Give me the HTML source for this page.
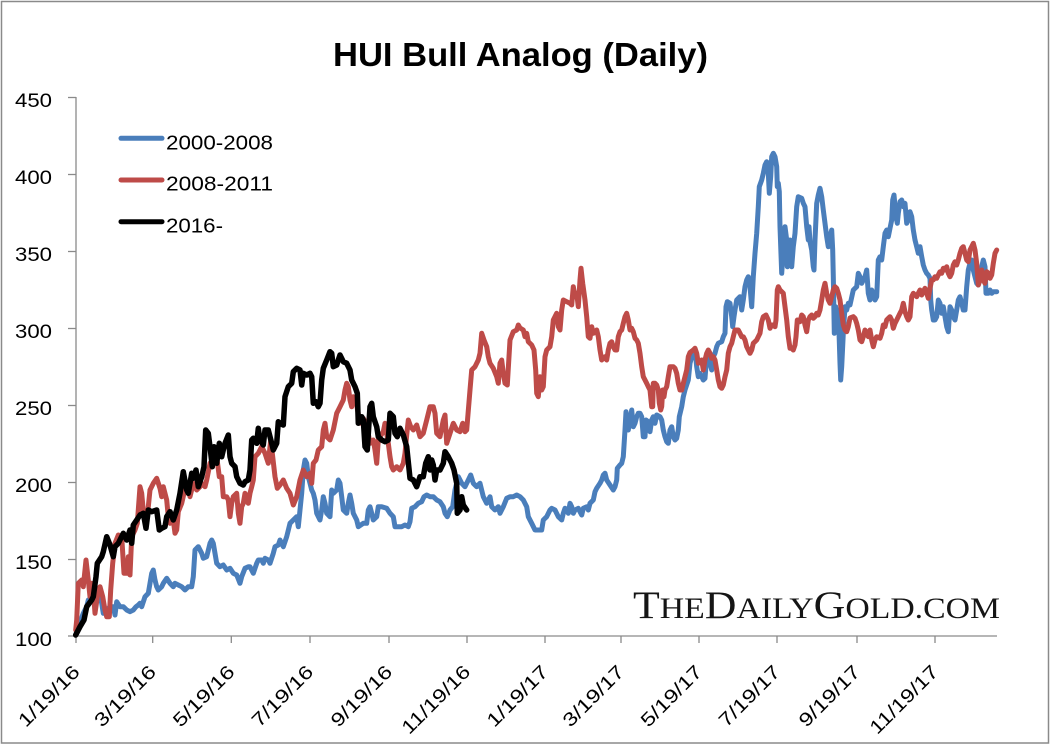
<!DOCTYPE html>
<html><head><meta charset="utf-8"><style>
html,body{margin:0;padding:0;background:#fff;}
svg{display:block;}
</style></head><body>
<svg width="1051" height="746" viewBox="0 0 1051 746" xmlns="http://www.w3.org/2000/svg">
<rect x="0" y="0" width="1051" height="746" fill="#fff"/>
<rect x="1.5" y="1.5" width="1047" height="741.5" fill="none" stroke="#8a8a8a" stroke-width="1.5"/>
<text x="520.5" y="66" font-family="Liberation Sans, sans-serif" font-weight="bold" font-size="33" text-anchor="middle" textLength="375" lengthAdjust="spacingAndGlyphs" fill="#000">HUI Bull Analog (Daily)</text>

<g stroke="#8a8a8a" stroke-width="1.3" fill="none">
<line x1="76" y1="97" x2="76" y2="636.5"/>
<line x1="76" y1="636" x2="997" y2="636"/>
<line x1="68" y1="97.5" x2="76" y2="97.5"/>
<line x1="68" y1="174.5" x2="76" y2="174.5"/>
<line x1="68" y1="251.5" x2="76" y2="251.5"/>
<line x1="68" y1="328.5" x2="76" y2="328.5"/>
<line x1="68" y1="405.5" x2="76" y2="405.5"/>
<line x1="68" y1="482.5" x2="76" y2="482.5"/>
<line x1="68" y1="559.5" x2="76" y2="559.5"/>
<line x1="68" y1="636" x2="76" y2="636"/>
<line x1="76" y1="636" x2="76" y2="643"/>
<line x1="152.7" y1="636" x2="152.7" y2="643"/>
<line x1="231.3" y1="636" x2="231.3" y2="643"/>
<line x1="310" y1="636" x2="310" y2="643"/>
<line x1="389" y1="636" x2="389" y2="643"/>
<line x1="467" y1="636" x2="467" y2="643"/>
<line x1="545" y1="636" x2="545" y2="643"/>
<line x1="621" y1="636" x2="621" y2="643"/>
<line x1="699" y1="636" x2="699" y2="643"/>
<line x1="777" y1="636" x2="777" y2="643"/>
<line x1="857" y1="636" x2="857" y2="643"/>
<line x1="935" y1="636" x2="935" y2="643"/>
</g>

<g font-family="Liberation Sans, sans-serif" font-size="19" fill="#000" text-anchor="end">
<text x="52" y="107" textLength="37" lengthAdjust="spacingAndGlyphs">450</text>
<text x="52" y="184" textLength="37" lengthAdjust="spacingAndGlyphs">400</text>
<text x="52" y="261" textLength="37" lengthAdjust="spacingAndGlyphs">350</text>
<text x="52" y="338" textLength="37" lengthAdjust="spacingAndGlyphs">300</text>
<text x="52" y="415" textLength="37" lengthAdjust="spacingAndGlyphs">250</text>
<text x="52" y="492" textLength="37" lengthAdjust="spacingAndGlyphs">200</text>
<text x="52" y="569" textLength="37" lengthAdjust="spacingAndGlyphs">150</text>
<text x="52" y="646" textLength="37" lengthAdjust="spacingAndGlyphs">100</text>
</g>

<g font-family="Liberation Sans, sans-serif" font-size="19" fill="#000" text-anchor="end">
<text transform="translate(81,673) rotate(-45)" textLength="78" lengthAdjust="spacingAndGlyphs">1/19/16</text>
<text transform="translate(157.2,673) rotate(-45)" textLength="78" lengthAdjust="spacingAndGlyphs">3/19/16</text>
<text transform="translate(235.8,673) rotate(-45)" textLength="78" lengthAdjust="spacingAndGlyphs">5/19/16</text>
<text transform="translate(314.5,673) rotate(-45)" textLength="78" lengthAdjust="spacingAndGlyphs">7/19/16</text>
<text transform="translate(393.5,673) rotate(-45)" textLength="78" lengthAdjust="spacingAndGlyphs">9/19/16</text>
<text transform="translate(471.5,673) rotate(-45)" textLength="88" lengthAdjust="spacingAndGlyphs">11/19/16</text>
<text transform="translate(549.5,673) rotate(-45)" textLength="78" lengthAdjust="spacingAndGlyphs">1/19/17</text>
<text transform="translate(625.5,673) rotate(-45)" textLength="78" lengthAdjust="spacingAndGlyphs">3/19/17</text>
<text transform="translate(703.5,673) rotate(-45)" textLength="78" lengthAdjust="spacingAndGlyphs">5/19/17</text>
<text transform="translate(781.5,673) rotate(-45)" textLength="78" lengthAdjust="spacingAndGlyphs">7/19/17</text>
<text transform="translate(861.5,673) rotate(-45)" textLength="78" lengthAdjust="spacingAndGlyphs">9/19/17</text>
<text transform="translate(939.5,673) rotate(-45)" textLength="88" lengthAdjust="spacingAndGlyphs">11/19/17</text>
</g>

<text x="633" y="618" font-family="Liberation Serif, serif" fill="#151515" textLength="367" lengthAdjust="spacingAndGlyphs"><tspan font-size="39">T</tspan><tspan font-size="30">HE</tspan><tspan font-size="39">D</tspan><tspan font-size="30">AILY</tspan><tspan font-size="39">G</tspan><tspan font-size="30">OLD.COM</tspan></text>

<g fill="none" stroke-width="5" stroke-linejoin="round" stroke-linecap="round">
<polyline stroke="#4a7ebb" points="75.7,635 78.3,626.7 83.3,613.3 86.7,606.7 88.3,600 91.7,598.3 95,600 98.3,596.7 100,596.7 101.7,603.3 103.3,613.3 106.7,610 110,606.7 113.3,606.7 115,615 116.7,601.7 120,606.7 123.3,606.7 126.7,610 130,611.7 133.3,610 136,606.7 138.3,605 140,603.3 141.7,606.7 145,596.7 148.3,593.3 150,583.3 151.7,573.3 153.3,570 155,580 156.7,586.7 158.3,590 161.7,586.7 163.3,583.3 166.7,578.3 170,583.3 173.3,586.7 175,583.3 178.3,585 181.7,586.7 185,590 188.3,586.7 191.7,586.7 193.3,576.7 195,550 198.3,546.7 201.7,553.3 203.3,558.3 206.7,556.7 210,543.3 211.7,540 213.3,543.3 215,553.3 216.7,563.3 220,566.7 223.3,565 226.7,570 230,568.3 233.3,573.3 236.7,575 240,583.3 241.7,576.7 245,568.3 248.3,566.7 250,566.7 253.3,573.3 255,568.3 256.7,563.3 258.3,560 261.7,560 263.3,563.3 265,558.3 268.3,560 270,563.3 273.3,553.3 275,546.7 278.3,545 280,540 283.3,546.7 286.7,536.7 290,523.3 293.3,520 296.7,516.7 298.3,526.7 300,510 301.7,493.3 303.3,470 305,460 306.7,463.3 308.3,476.7 310,483.3 311.7,490 313.3,493.3 315,500 316.7,513.3 320,520 321.7,510 323.3,496.7 325,503.3 326.7,513.3 330,516.7 331.7,490 333.3,493.3 336.7,490 338.3,480 340,483.3 341.7,496.7 343.3,510 346.7,513.3 348.3,503.3 350,495 351.7,503.3 353.3,513.3 356.7,520 358.3,526.7 363.3,523.3 366.7,523.3 368.3,510 370,506.7 371.7,513.3 373.3,520 376.7,516.7 378.3,506.7 381.7,506.7 386.7,508.3 390,513.3 393.3,516.7 395,526.7 398.3,526.7 401.7,526.7 405,525 408.3,526.7 410,521.7 411.7,508.3 415,506.7 418.3,503.3 421.7,501.7 424,496.7 426.7,495 430,496.7 433.3,496.7 436.7,500 440,501.7 443.3,506.7 445,513.3 447.3,516.7 450,510 452.7,506.7 455,490 458.3,476.7 461.7,483.3 465,486.7 468.3,480 470.7,475 473.3,483.3 476.7,486.7 480,483.3 483.3,496.7 486.7,503.3 490,496.7 491.7,506.7 495,510 498.3,506.7 500,513.3 503.3,506.7 506.7,498.3 510,496.7 513.3,496.7 516.7,495 520,496.7 523.3,500 526.7,506.7 528.3,516.7 531.7,523.3 535,530 538.3,530 541.7,530 543.3,520 546.7,516.7 550,510 551.7,508.3 555,510 558.3,516.7 561.7,520 563.3,513.3 565,508.3 566.7,510 568.3,513.3 570,503.3 571.7,506.7 573.3,513.3 575,510 578.3,508.3 580,511.7 581.7,515 583.3,508.3 586.7,506.7 588.3,510 590,503.3 593.3,500 595,491.7 596.7,488.3 600,483.3 601.7,480 603.3,475 605,473.3 606.7,480 610,485 613.3,490 615,486.7 616.7,480 617.3,468.3 620,465 621.7,463.3 623.3,456.7 625,430 626,411.7 628.3,430 630,420 631.7,410 633.3,426.7 635,423.3 636.7,416.7 638.3,413.3 640,413.3 641.7,416.7 643.3,436.7 645,436.7 646,420 648.3,421.7 650,431.7 651.7,420 653.3,416.7 655,423.3 656.7,415 660,416.7 661.7,420 663.3,430 665,436.7 666.7,441.7 668.3,443.3 670,430 671.7,426.7 673.3,436.7 675,440 676.7,438.3 678.3,430 679.3,416.7 681.7,406.7 683.3,396.7 685,390 688.3,380 690,363.3 691.7,356.7 693.3,353.3 695,350 696.7,366.7 698.3,376.7 700,373.3 703.3,380 705,378.3 706.7,356.7 708.3,360 710,363.3 711.7,370 713.3,356.7 715,353.3 716.7,346.7 718.3,343.3 721.7,341.7 723.3,336.7 725,333.3 726,306.7 727.3,301.7 730,303.3 731.7,316.7 732.7,326.7 734,316.7 735,310 736.7,300 740,296.7 741.7,310 743.3,300 745,286.7 746.7,280 748.3,276.7 750,286.7 751.7,306.7 753.3,276.7 755,253.3 756.7,233.3 758.3,206.7 759.3,186.7 761.7,180 763.3,173.3 765,165 766.7,161.7 768.3,173.3 769.3,193.3 770.7,176.7 771.7,156.7 773.3,153.3 775,156.7 776.7,166.7 777.3,186.7 778.3,183.3 779.3,191.7 780,226.7 781.7,273.3 783.3,250 785,226.7 786.7,240 787.3,266.7 788.3,246.7 790,240 791.7,266.7 793.3,246.7 795,233.3 796.7,206.7 798.3,196.7 801.7,198.3 803.3,203.3 805,206.7 806.7,226.7 808.3,240 809,226.7 810,241.7 811.7,250 813.3,266.7 814,270 815,240 816.7,203.3 818.3,195 820,188.3 821.7,196.7 823.3,210 825,223.3 826.7,236.7 828.3,246.7 830,236.7 831.7,230 832.7,250 833.3,276.7 834.3,333.3 835.7,306.7 836.7,320 838.3,310 840,363.3 840.7,380 841.7,366.7 843.3,333.3 845,306.7 846.7,310 848.3,303.3 850,305 853.3,290 856.7,286.7 858.3,273.3 860,276.7 861.7,283.3 863.3,280 865,276.7 866.7,270 868.3,293.3 870,300 871.7,290 873.3,293.3 875,300 876.7,296.7 878.3,260 880,256.7 881.7,260 883.3,246.7 885,233.3 886.7,230 888.3,236.7 890,228.3 891.7,220 892.7,200 894,195 896,216.7 897.3,223.3 898.3,213.3 900,201.7 901.7,200 903.3,206.7 905,203.3 906.7,223.3 908.3,220 910,211.7 911.7,216.7 913.3,230 915,240 916.7,246.7 918.3,253.3 920,246.7 921.7,256.7 923.3,265 925,270 926.7,273.3 928.3,275 930,278.3 930.7,300 931.7,310 933.3,320 935,320 936.7,316.7 938.3,300 940,303.3 941.7,313.3 943.3,306.7 945,316.7 946.7,326.7 948.3,331.7 950,306.7 951.7,310 953.3,316.7 955,320 956.7,310 958.3,300 960,296.7 961.7,303.3 963.3,310 965,310 966.7,286.7 968.3,270 970,263.3 971.7,260 973.3,270 975,276.7 976.7,283.3 978.3,285 980,280 981.7,266.7 983.3,260 985,266.7 986,293.3 988.3,293.3 990,290 991.7,293.3 993.3,291.7 996.7,291.7"/>
<polyline stroke="#be4b48" points="75.7,630 76.7,620 78.3,583.3 81.7,580 83.3,586.7 86,560 88.3,580 90,596.7 91.7,583.3 93.3,590 95,613.3 98.3,590 100,586.7 102.7,596.7 105,610 106.7,616.7 109.3,616.7 110.7,590 112.7,563.3 115,543.3 118.3,535 121.7,536.7 124,573.3 126.7,573.3 128.3,556.7 130,575 131.7,536.7 135,530 137.3,523.3 140,486.7 141.7,493.3 144,518.3 147.3,516.7 150,490 153.3,483.3 156.7,478.3 160,488.3 161.7,496.7 163.3,486.7 166.7,500 168.3,516.7 170,523.3 173.3,520 175,533.3 176.7,530 178.3,511.7 181.7,503.3 184,493.3 186.7,483.3 190,496.7 193.3,483.3 196.7,490 200,486.7 201.7,483.3 205,486.7 206.7,480 210,463.3 213.3,463.3 216.7,456.7 219.3,476.7 221.7,476.7 223.3,496.7 226.7,496.7 228.3,500 230,516.7 231.7,503.3 233.3,496.7 236.7,493.3 238.3,513.3 240,523.3 241.7,506.7 243.3,503.3 245,493.3 248.3,503.3 250,493.3 251.7,486.7 253.3,480 255,456.7 258.3,453.3 261.7,446.7 265,453.3 268.3,463.3 270.7,440 272.7,456.7 275,476.7 277.3,488.3 280,485 283.3,480 286.7,488.3 290,493.3 293.3,505 296.7,496.7 300,480 303.3,470 306.7,476.7 310,473.3 311.7,483.3 313.3,463.3 316,460 318.3,450 321.7,446.7 323.3,430 325,423.3 326.7,436.7 330,440 333.3,430 336.7,413.3 340,406.7 343.3,400 345,390 346.7,383.3 348.3,386.7 350,400 351.7,406.7 353.3,396.7 356.7,405 360,423.3 363.3,418.3 366.7,425 370,443.3 373.3,440 375,450 376.7,463.3 378.3,440 380,436.7 383.3,431.7 385,423.3 388.3,443.3 390,456.7 391.7,466.7 393.3,470 396.7,466.7 400,470 403.3,463.3 405,453.3 406.7,435 408.3,420 410.7,426.7 413.3,430 416.7,425 420,436.7 423.3,433.3 426.7,420 430,406.7 433.3,406.7 435,413.3 436.7,433.3 440,436.7 443.3,420 445,415 446.7,443.3 450,433.3 453.3,423.3 456.7,430 460,431.7 462.7,423.3 465,431.7 466.7,430 470,390 471.7,370 475,366.7 478.3,360 480,353.3 481.7,333.3 484,340 486.7,346.7 488.3,356.7 490,363.3 493.3,368.3 496.7,376.7 498.3,383.3 500,363.3 501.7,360 503.3,373.3 505,383.3 507.3,385 510,340 513.3,331.7 516.7,330 518.3,325 520,328 523.3,330 525,336.7 526.7,333.3 528.3,341.7 531.7,345 534,350 535.7,370 536.7,393.3 538.3,396.7 540,376.7 541.7,390 543.3,386.7 545,356.7 546.7,350 550,346.7 551.7,336.7 553.3,320 555,316.7 556.7,313.3 558.3,326.7 560,330 561.7,310 563.3,300 566.7,301.7 570,303.3 571.7,305 573.3,286.7 575,296.7 576.7,293.3 578.3,306.7 580,280 581,268.3 582.7,283.3 585,300 586.7,316.7 588.3,336.7 590,338.3 591.7,326.7 593.3,333.3 595,331.7 596.7,330 598.3,336.7 600,350 601.7,360 605,356.7 606.7,360 608.3,350 610,343.3 611.7,341.7 613.3,346.7 615,350 616.7,350 618.3,336.7 620,331.7 621.7,330 623.3,323.3 625,316.7 626.7,313.3 628.3,320 630,330 631.7,328.3 633.3,331.7 635,338.3 636.7,340 638.3,343.3 640,353.3 641.7,366.7 643.3,376.7 646.7,383.3 648.3,386.7 650,390 651.7,406.7 652.7,406.7 653.3,383.3 655,383.3 656.7,385 658.3,390 659.3,403.3 660.7,410 661.7,406.7 662.7,390 664,396.7 665,390 666.7,386.7 668.3,376.7 670,366.7 673.3,366.7 675,368.3 676.7,373.3 678.3,383.3 680,390 681.7,390 683.3,383.3 686.7,370 688.3,356.7 690,352.5 693.3,350 695,348.3 696.7,353.3 698.3,363.3 700,361.7 701.7,360 703.3,370 705,360 706.7,353.3 708.3,350 710,353.3 711.7,358.3 713.3,356.7 715,360 716.7,370 718.3,380 720,386.7 721.7,388.3 723.3,385 725,376.7 726.7,370 728.3,353.3 730,346.7 731.7,343.3 733.3,336.7 735,330 738.3,330 740,333.3 741.7,336.7 743.3,336.7 745,340 746.7,346.7 748.3,350 750,353.3 751.7,350 753.3,343.3 756.7,340 758.3,336.7 760,333.3 761.7,321.7 763.3,316.7 766,315 768.3,320 770,328.3 771.7,325 773.3,325 775,326.7 776,320 777.3,290 778.3,286.7 780,290 781.7,291.7 783.3,293.3 785,306.7 786.7,320 788.3,336.7 790,348.3 791.7,348.3 793.3,350 795,345 796,336.7 797.3,320 800,321.7 801.7,315 803.3,316.7 805,325 806.7,331.7 808.3,320 810,316.7 811.7,315 813.3,318.3 815,316.7 816.7,313.3 818.3,315 820,310 821.7,300 823.3,290 825,283.3 826.7,293.3 828.3,300 830,303.3 831.7,296.7 833.3,290 835,286.7 836.7,288.3 838.3,293.3 840,300 841.7,313.3 843.3,325 845,330 846.7,331.7 848.3,326.7 850,318 853.3,316.7 855,318.3 856.7,323.3 858.3,330 860,340 861.7,341.7 863.3,336.7 865,330 866.7,333.3 868.3,336.7 870,330 871.7,340 873.3,346.7 875,340 876.7,336.7 880,338.3 881.7,333.3 883.3,325 885,326.7 886.7,320 888.3,318.3 890,316.7 891.7,320 893.3,328.3 895,323.3 896.7,320 898.3,316.7 900,313.3 901.7,310 903.3,303.3 905,311.7 906.7,316.7 908.3,320 910,316.7 911.7,296.7 913.3,293.3 915,295 916.7,296.7 918.3,293.3 920,290 921.7,295 923.3,291.7 925,288.3 926.7,293.3 928.3,298.3 930,288.3 931.7,280 933.3,280 935,276.7 936.7,278.3 938.3,275 940,271.7 941.7,273.3 943.3,268.3 945,270 946.7,266.7 948.3,273.3 950,276.7 951.7,273.3 953.3,265 955,261.7 956.7,265 958.3,260 960,253.3 961.7,248.3 963.3,246.7 965,253.3 966.7,260 968.3,261.7 970,250 971.7,246.7 973.3,243.3 975,250 976.7,263.3 978.3,285 980,280 981.7,270 983.3,280 985,283.3 986.7,271.7 988.3,273.3 990,278.3 991.7,275 993.3,263.3 995,253.3 996.7,250"/>
<polyline stroke="#000" stroke-width="5.5" points="75.7,635 80,626.7 84,620 86.7,606.7 91.7,600 93.3,596.7 96,576.7 97.3,563.3 101.7,556.7 103.3,551.7 106.7,536.7 110,545 113.3,556.7 115,546.7 118.3,543.3 123.3,533.3 125,536.7 126.7,540 130,530 131.7,543.3 133.3,525 136.7,520 140,515 143.3,513.3 146,528.3 148.3,510 151.7,511.7 156.7,510 159.3,530 161.7,528.3 165,526.7 166.7,516.7 170,511.7 173.3,520 176.7,510 180,493.3 183.3,471.7 186.7,490 188.3,493.3 191.7,473.3 193.3,478.3 196,470 198.3,486.7 201.7,476.7 204,466.7 205.7,430 208.3,433.3 210,446.7 212.3,466.7 214,446.7 216.7,463.3 219.3,443.3 221.7,456.7 223.3,450 225,443.3 228.3,435 230,456.7 231.7,463.3 235,466.7 236.7,476.7 240,483.3 243.3,485 245,481.7 248.3,480 250,470 251.7,440 253.3,438.3 256.7,443.3 258.3,428.3 260,440 263.3,445 265,430 268.3,430 271.7,443.3 273.3,450 276.7,443.3 278.3,421.7 280,423.3 283.3,425 285,396.7 288.3,386.7 291.7,383.3 293.3,371.7 296.7,368.3 300,370 301.7,385 303.3,373.3 306.7,375 310,373.3 311.7,376.7 313.3,403.3 316,401.7 318.3,406.7 320,403.3 321.7,380 323.3,368.3 326.7,360 330,351.7 331.7,353.3 333.3,366.7 336.7,365 338.3,360 340,355 343.3,361.7 346.7,363.3 350,370 351.7,380 355,386.7 357.3,393.3 358.3,423.3 361.7,416.7 363.3,420 365,446.7 367.3,450 370,406.7 371.7,403.3 373.3,416.7 376.7,426.7 378.3,436.7 381.7,440 385,441.7 388.3,440 390,413.3 393.3,416.7 395,433.3 397.3,436.7 400,428.3 403.3,435 406.7,446.7 410,478.3 413.3,480 416.7,486.7 420,476.7 423.3,476.7 425.7,463.3 428.3,456.7 430,470 431.7,460 433.3,465 435,480 436.7,470 440,470 443.3,463.3 445,451.7 448.3,456.7 451.7,463.3 454,470 456.7,483.3 457.3,513.3 460,510 461.7,496.7 463.3,505 466.7,510"/>
</g>

<g stroke-width="5" stroke-linecap="round">
<line x1="121" y1="138.3" x2="162" y2="138.3" stroke="#4a7ebb"/>
<line x1="121" y1="180" x2="162" y2="180" stroke="#be4b48"/>
<line x1="121" y1="221.7" x2="162" y2="221.7" stroke="#000"/>
</g>
<g font-family="Liberation Sans, sans-serif" font-size="20" fill="#000">
<text x="166" y="149.3" textLength="107" lengthAdjust="spacingAndGlyphs">2000-2008</text>
<text x="166" y="190.7" textLength="107" lengthAdjust="spacingAndGlyphs">2008-2011</text>
<text x="166" y="232.3" textLength="57" lengthAdjust="spacingAndGlyphs">2016-</text>
</g>
</svg>
</body></html>
